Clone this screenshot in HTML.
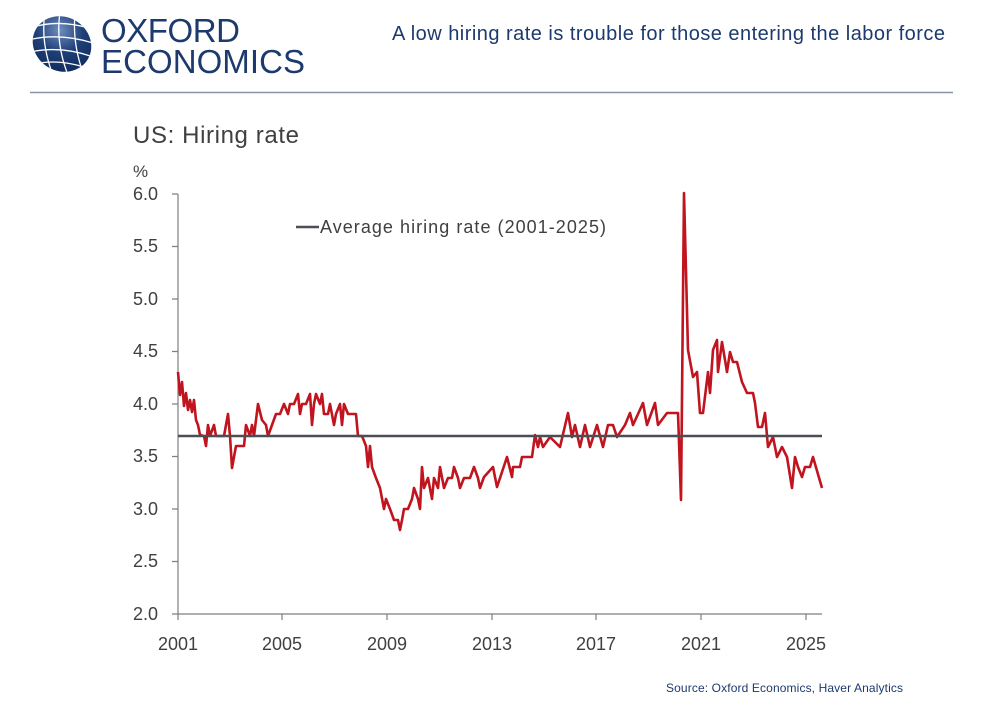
<!DOCTYPE html>
<html><head><meta charset="utf-8"><style>
body{margin:0;background:#fff;width:1000px;height:700px;overflow:hidden;font-family:"Liberation Sans",sans-serif}
</style></head><body>
<svg width="1000" height="700" xmlns="http://www.w3.org/2000/svg" font-family="Liberation Sans, sans-serif">
<defs><radialGradient id="g" cx="0.35" cy="0.3" r="0.8"><stop offset="0" stop-color="#6f8fbf"/><stop offset="0.5" stop-color="#1f3f78"/><stop offset="1" stop-color="#102a5a"/></radialGradient>
<clipPath id="cg"><ellipse cx="62" cy="44" rx="30" ry="27" transform="rotate(30 62 44)"/></clipPath></defs>
<ellipse cx="62" cy="44" rx="30" ry="27" transform="rotate(30 62 44)" fill="url(#g)"/>
<g clip-path="url(#cg)" stroke="#fff" stroke-width="1.3" fill="none">
<path d="M30 28 Q60 18 95 30 M28 40 Q60 32 96 44 M30 52 Q62 45 96 58 M34 64 Q62 58 92 70"/>
<path d="M45 12 Q40 45 55 80 M60 12 Q55 45 70 80 M75 14 Q72 45 85 78"/>
</g>
<text x="101" y="42" font-size="33" fill="#1c3a6e" textLength="139">OXFORD</text>
<text x="101" y="73" font-size="33" fill="#1c3a6e" textLength="204">ECONOMICS</text>
<text x="945" y="40" font-size="20" fill="#1c3a6e" text-anchor="end" textLength="553">A low hiring rate is trouble for those entering the labor force</text>
<line x1="30" y1="92.5" x2="953" y2="92.5" stroke="#8a94a8" stroke-width="1.5"/>
<text x="133" y="143" font-size="24" fill="#404040" textLength="166">US: Hiring rate</text>
<text x="133" y="177" font-size="17" fill="#404040">%</text>
<g font-size="18" fill="#404040" text-anchor="end">
<text x="158" y="200">6.0</text><text x="158" y="252">5.5</text><text x="158" y="305">5.0</text><text x="158" y="357">4.5</text><text x="158" y="410">4.0</text><text x="158" y="462">3.5</text><text x="158" y="515">3.0</text><text x="158" y="567">2.5</text><text x="158" y="620">2.0</text>
</g>
<g stroke="#7f7f7f" stroke-width="1.2">
<line x1="178" y1="194" x2="178" y2="614"/>
<line x1="178" y1="614" x2="822" y2="614"/>
<path d="M172 194H178M172 246.5H178M172 299H178M172 351.5H178M172 404H178M172 456.5H178M172 509H178M172 561.5H178M172 614H178"/>
<path d="M178 614V620M282 614V620M387 614V620M492 614V620M596 614V620M701 614V620M806 614V620"/>
</g>
<g font-size="18" fill="#404040" text-anchor="middle">
<text x="178" y="650">2001</text><text x="282" y="650">2005</text><text x="387" y="650">2009</text><text x="492" y="650">2013</text><text x="596" y="650">2017</text><text x="701" y="650">2021</text><text x="806" y="650">2025</text>
</g>
<line x1="296" y1="227" x2="319" y2="227" stroke="#4a4f55" stroke-width="2.5"/>
<text x="320" y="233" font-size="18" fill="#404040" textLength="286">Average hiring rate (2001-2025)</text>
<polyline fill="none" stroke="#c0141f" stroke-width="2.6" stroke-linejoin="round" points="178,372 180,395 182,382 184,406 186,393 188,410 190,400 192,412 194,400 196,420 198,425 200,435 204,436 206,446 208,425 210,436 214,425 216,436 220,436 224,436 228,414 230,436 232,468 236,446 240,446 244,446 246,425 250,436 252,425 254,436 258,404 262,420 266,425 268,436 272,425 276,414 280,414 284,404 288,414 290,404 294,404 298,394 300,414 302,404 306,404 310,394 312,425 314,404 316,394 320,404 322,394 324,414 328,414 330,404 334,425 336,414 340,404 342,425 344,404 348,414 350,414 356,414 358,436 362,436 366,446 368,467 370,446 372,467 376,478 380,488 384,509 386,499 390,509 394,520 398,520 400,530 402,520 404,509 408,509 412,499 414,488 418,499 420,509 422,467 424,488 428,478 432,499 434,478 438,488 440,467 444,488 448,478 452,478 454,467 458,478 460,488 464,478 470,478 474,467 478,478 480,488 484,477 493,467 497,487 507,457 512,477 513,467 520,467 522,457 532,457 535,435 538,447 540,437 543,447 550,437 560,447 568,413 572,437 575,425 580,447 585,425 590,447 597,425 603,447 608,425 613,425 617,437 625,425 630,413 633,425 643,403 647,425 655,403 658,425 667,413 678,413 681,500 684,193 688,350 693,377 697,372 700,413 703,413 708,372 710,393 713,350 717,340 718,372 722,342 727,372 730,352 733,362 737,362 742,382 747,393 753,393 755,403 758,427 762,427 765,413 768,447 773,437 777,457 782,447 787,457 792,488 795,457 798,467 802,477 805,467 810,467 813,457 822,488"/>
<line x1="178" y1="436" x2="822" y2="436" stroke="#4a4f55" stroke-width="2.5"/>
<text x="903" y="692" font-size="12" fill="#1c3a6e" text-anchor="end" textLength="237">Source: Oxford Economics, Haver Analytics</text>
</svg>
</body></html>
